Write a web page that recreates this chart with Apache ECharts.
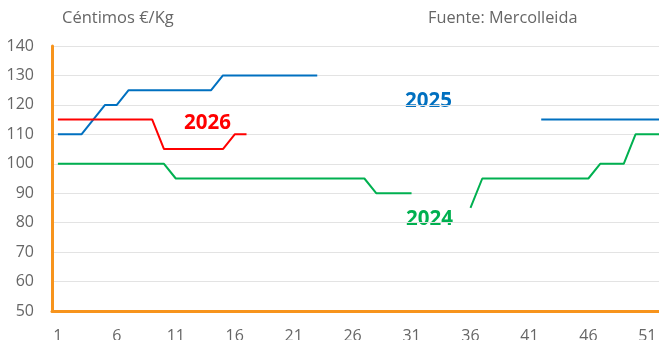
<!DOCTYPE html>
<html>
<head>
<meta charset="utf-8">
<script src="https://cdn.jsdelivr.net/npm/echarts@6/dist/echarts.min.js"></script>
<style>
  html, body { margin: 0; padding: 0; background: #fff; }
  #chart { width: 659px; height: 340px; }
</style>
</head>
<body>
<div id="chart"></div>
<script>
// Weekly price (céntimos €/Kg), weeks 1..52
const weeks = Array.from({ length: 52 }, (_, i) => String(i + 1));

const serie2024 = [100,100,100,100,100,100,100,100,100,100,
                   95,95,95,95,95,95,95,95,95,95,
                   95,95,95,95,95,95,95,90,90,90,
                   90,null,null,null,null,85,95,95,95,95,
                   95,95,95,95,95,95,100,100,100,110,
                   110,110];

const serie2025 = [110,110,110,115,120,120,125,125,125,125,
                   125,125,125,125,130,130,130,130,130,130,
                   130,130,130,null,null,null,null,null,null,null,
                   null,null,null,null,null,null,null,null,null,null,
                   null,115,115,115,115,115,115,115,115,115,
                   115,115];

const serie2026 = [115,115,115,115,115,115,115,115,115,105,
                   105,105,105,105,105,110,110];

const yTicks = { min: 50, max: 140, step: 10 };

const colors = { y2024: '#00B050', y2025: '#0070C0', y2026: '#FF0000', axis: '#F7941D' };

const chart = echarts.init(document.getElementById('chart'));

function lineSeries(name, data, color) {
  return {
    name, type: 'line', data,
    showSymbol: false, symbol: 'none',
    connectNulls: false,
    lineStyle: { color, width: 2 },
    itemStyle: { color },
    animation: false
  };
}

chart.setOption({
  animation: false,
  textStyle: { fontFamily: 'Open Sans, Noto Sans, sans-serif' },
  grid: { left: 52, right: -6, top: 46, bottom: 29, containLabel: false, outerBoundsMode: 'none' },
  xAxis: {
    type: 'category',
    data: weeks,
    boundaryGap: true,
    axisLine: { lineStyle: { color: colors.axis, width: 3 } },
    axisTick: { show: false },
    axisLabel: { interval: 4, color: '#666', fontSize: 16, margin: 17 },
    splitLine: { show: false }
  },
  yAxis: {
    type: 'value',
    min: yTicks.min, max: yTicks.max, interval: yTicks.step,
    axisLine: { show: true, lineStyle: { color: colors.axis, width: 3 } },
    axisTick: { show: false },
    axisLabel: { color: '#666', fontSize: 16, margin: 18 },
    splitLine: { show: true, lineStyle: { color: '#e3e3e3', width: 1 } }
  },
  graphic: [
    { type: 'text', left: 62, top: 10, style: { text: 'Céntimos €/Kg', fill: '#666', font: '16.5px "Open Sans", sans-serif' } },
    { type: 'text', left: 428, top: 10, style: { text: 'Fuente: Mercolleida', fill: '#666', font: '16.3px "Open Sans", sans-serif' } },
    { type: 'text', left: 405, top: 91, style: { text: '2025', fill: colors.y2025, font: 'bold 20.5px "Open Sans", sans-serif' } },
    { type: 'text', left: 184, top: 113, style: { text: '2026', fill: colors.y2026, font: 'bold 20.5px "Open Sans", sans-serif' } },
    { type: 'text', left: 406, top: 209, style: { text: '2024', fill: colors.y2024, font: 'bold 20.5px "Open Sans", sans-serif' } }
  ],
  series: [
    lineSeries('2024', serie2024, colors.y2024),
    lineSeries('2025', serie2025, colors.y2025),
    lineSeries('2026', serie2026, colors.y2026)
  ]
});
</script>
</body>
</html>
